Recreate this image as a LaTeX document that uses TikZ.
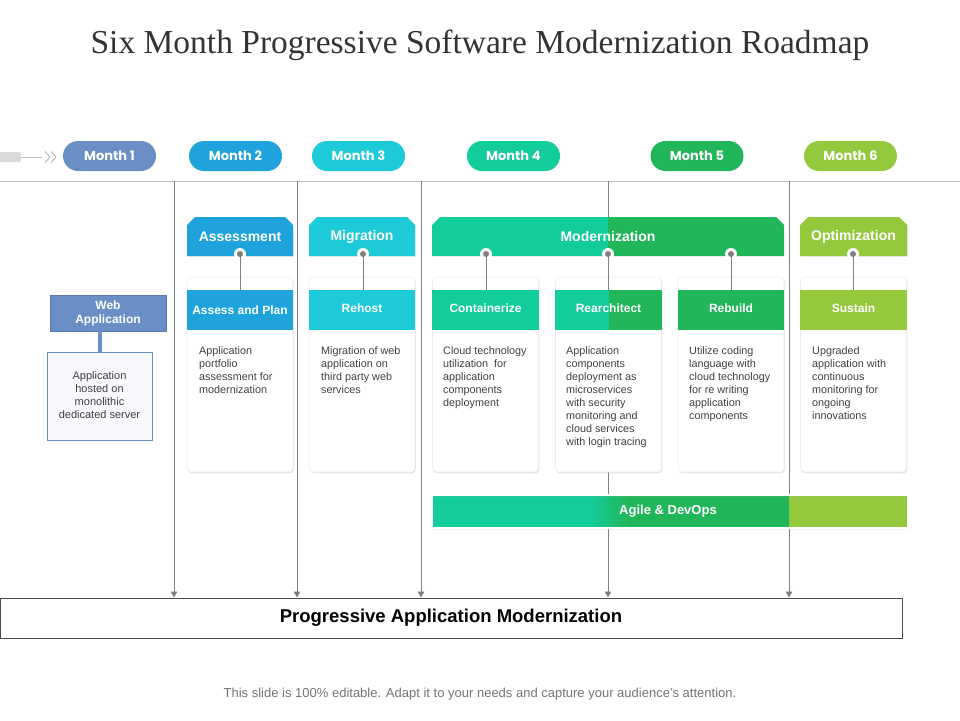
\documentclass[tikz,border=0pt]{standalone}
\usepackage{fontspec}
\setmainfont{Liberation Sans}
\newfontfamily\titlefont{Liberation Serif}
\newfontfamily\pop{Poppins}
\usetikzlibrary{shapes.misc,arrows.meta,shadows,calc}
\definecolor{cA}{HTML}{6A8FC6}
\definecolor{cB}{HTML}{1FA3DD}
\definecolor{cC}{HTML}{1DCBD8}
\definecolor{cD}{HTML}{13CC9C}
\definecolor{cE}{HTML}{22B65A}
\definecolor{cF}{HTML}{95C93D}
\definecolor{lineg}{HTML}{7F7F7F}
\definecolor{txtg}{HTML}{404040}
\begin{document}
\begin{tikzpicture}[x=1pt,y=-1pt,
  month/.style={rounded rectangle, minimum width=93pt, minimum height=30pt, inner sep=0pt,
    text=white, font=\pop\bfseries\fontsize{13}{14}\selectfont},
  phase/.style={chamfered rectangle, chamfered rectangle corners={north west,north east},
    chamfered rectangle xsep=4pt, chamfered rectangle ysep=4pt, minimum height=39pt, inner sep=0pt,
    text=white, font=\bfseries\fontsize{14}{16}\selectfont,
    drop shadow={shadow xshift=0.8pt, shadow yshift=-0.8pt, opacity=0.15}},
  card/.style={rounded corners=4pt, fill=white, draw=black!7, line width=0.6pt,
    minimum width=106pt, minimum height=195pt, inner sep=0pt,
    drop shadow={shadow xshift=0.8pt, shadow yshift=-1.4pt, opacity=0.22}},
  band/.style={minimum width=106pt, minimum height=40pt, inner sep=0pt, text=white,
    font=\bfseries\fontsize{12}{13}\selectfont},
  desc/.style={anchor=north west, inner sep=0pt, align=left, text=txtg,
    font=\fontsize{10.8}{13}\selectfont},
  dotring/.style={circle, fill=white, minimum size=12pt, inner sep=0pt},
  dotin/.style={circle, fill=lineg, minimum size=6pt, inner sep=0pt},
  conn/.style={lineg, line width=0.9pt},
  vline/.style={lineg, line width=0.8pt, -{Triangle[width=6.5pt,length=6pt]}}
]
\useasboundingbox (0,0) rectangle (960,720);

% title
\node[font=\titlefont\fontsize{33.5}{38}\selectfont, text={black!80}] (title) at (480,45) {Six Month Progressive Software Modernization Roadmap};

% top line and left icon
\coordinate (hl0) at (0,181);
\coordinate (hl1) at (960,181);
\draw[black!25, line width=0.8pt] (hl0) -- (hl1);
\fill[black!15, rounded corners=2pt] (-6,152) rectangle (21,162);
\draw[black!25, line width=0.7pt] (21,157) -- (42,157);
\draw[black!30, line width=0.9pt] (45,151.5) -- (50,157) -- (45,162.5);
\draw[black!30, line width=0.9pt] (51,151.5) -- (56,157) -- (51,162.5);

% months
\node[month, fill=cA] (m1) at (109.5,156) {Month 1};
\node[month, fill=cB] (m2) at (235.5,156) {Month 2};
\node[month, fill=cC] (m3) at (358.5,156) {Month 3};
\node[month, fill=cD] (m4) at (513.5,156) {Month 4};
\node[month, fill=cE] (m5) at (697,156) {Month 5};
\node[month, fill=cF] (m6) at (850.5,156) {Month 6};

% bottom box
\node[draw=black!70, line width=1pt, minimum width=902pt, minimum height=40pt, inner sep=0pt,
  font=\bfseries\fontsize{18.5}{20}\selectfont] (pam) at (451,618) {\raisebox{-1.5pt}{Progressive Application Modernization}};

% vertical lines
\foreach \i/\x in {1/174,2/297,3/421,4/608,5/789}{
  \coordinate (v\i) at (\x,181);
  \draw[vline] (v\i) -- (v\i |- pam.north);
}

% phase headers
\node[phase, fill=cB, minimum width=106pt] (h1) at (240,236.5) {Assessment};
\node[phase, fill=cC, minimum width=106pt] (h2) at (362,236.5) {Migration};
\node[phase, minimum width=352pt,
  path picture={\fill[cD] (path picture bounding box.south west) rectangle (path picture bounding box.north);
                \fill[cE] (path picture bounding box.south) rectangle (path picture bounding box.north east);}]
  (h3) at (608,236.5) {Modernization};
\node[phase, fill=cF, minimum width=107pt] (h4) at (853.5,236.5) {Optimization};

% cards
\foreach \i/\x in {1/240,2/362,3/485.5,4/608.5,5/731,6/853.5}{
  \node[card] (k\i) at (\x,374.5) {};
}
\node[band, fill=cB] (b1) at (240,310) {Assess and Plan};
\node[band, fill=cC] (b2) at (362,310) {\raisebox{3pt}{Rehost}};
\node[band, fill=cD, minimum width=107pt] (b3) at (485.5,310) {\raisebox{3pt}{Containerize}};
\node[band, minimum width=107pt,
  path picture={\fill[cD] (path picture bounding box.south west) rectangle (path picture bounding box.north);
                \fill[cE] (path picture bounding box.south) rectangle (path picture bounding box.north east);}]
  (b4) at (608.5,310) {\raisebox{3pt}{Rearchitect}};
\node[band, fill=cE] (b5) at (731,310) {\raisebox{3pt}{Rebuild}};
\node[band, fill=cF, minimum width=107pt] (b6) at (853.5,310) {\raisebox{3pt}{Sustain}};

% dots and connectors
\foreach \i/\x/\b in {1/240/b1,2/363/b2,3/486/b3,4/608/b4,5/731/b5,6/853/b6}{
  \node[dotring] (r\i) at (\x,254) {};
  \node[dotin] (p\i) at (\x,254) {};
  \draw[conn] (p\i.center) -- (p\i.center |- \b.north);
}

% descriptions
\node[desc] (t1) at (199,346) {Application\\portfolio\\assessment for\\modernization};
\node[desc] (t2) at (321,346) {Migration of web\\application on\\third party web\\services};
\node[desc] (t3) at (443,346) {Cloud technology\\utilization\ \ for\\application\\components\\deployment};
\node[desc] (t4) at (566,346) {Application\\components\\deployment as\\microservices\\with security\\monitoring and\\cloud services\\with login tracing};
\node[desc] (t5) at (689,346) {Utilize coding\\language with\\cloud technology\\for re writing\\application\\components};
\node[desc] (t6) at (812,346) {Upgraded\\application with\\continuous\\monitoring for\\ongoing\\innovations};

% web application
\node[fill=cA, draw=cA!85!black, line width=0.5pt, minimum width=116pt, minimum height=36pt, inner sep=0pt,
  align=center, text=white, font=\bfseries\fontsize{12}{14}\selectfont] (wa) at (108,313) {Web\\Application};
\node[fill={cA!6}, draw=cA, line width=0.7pt, minimum width=105pt, minimum height=88pt, inner sep=0pt,
  align=center, text=txtg, font=\fontsize{11}{13}\selectfont] (wb) at (99.5,396) {\raisebox{2.5pt}{\begin{tabular}{@{}c@{}}Application\\hosted on\\monolithic\\dedicated server\end{tabular}}};
\draw[cA, line width=4pt] (wa.south -| wb.north) -- (wb.north);

% agile bar
\fill[cD] (432,495) rectangle (590,528);
\shade[left color=cD, right color=cE] (589.5,495) rectangle (628,528);
\fill[cE] (627.5,495) rectangle (789,528);
\fill[cF] (789,495) rectangle (908,528);
\node[draw=white, line width=1.5pt, minimum width=476pt, minimum height=33pt, inner sep=0pt,
  text=white, font=\bfseries\fontsize{13}{15}\selectfont,
  drop shadow={shadow xshift=0.6pt, shadow yshift=-1pt, opacity=0.15, fill=none, draw=black!30}]
  (ag) at (670,511.5) {\hspace*{-4pt}Agile \& DevOps};

% footer
\node[text=black!55, font=\fontsize{13}{15}\selectfont] (foot) at (480,694) {This slide is 100\% editable. Adapt it to your needs and capture your audience’s attention.};
\end{tikzpicture}
\end{document}
